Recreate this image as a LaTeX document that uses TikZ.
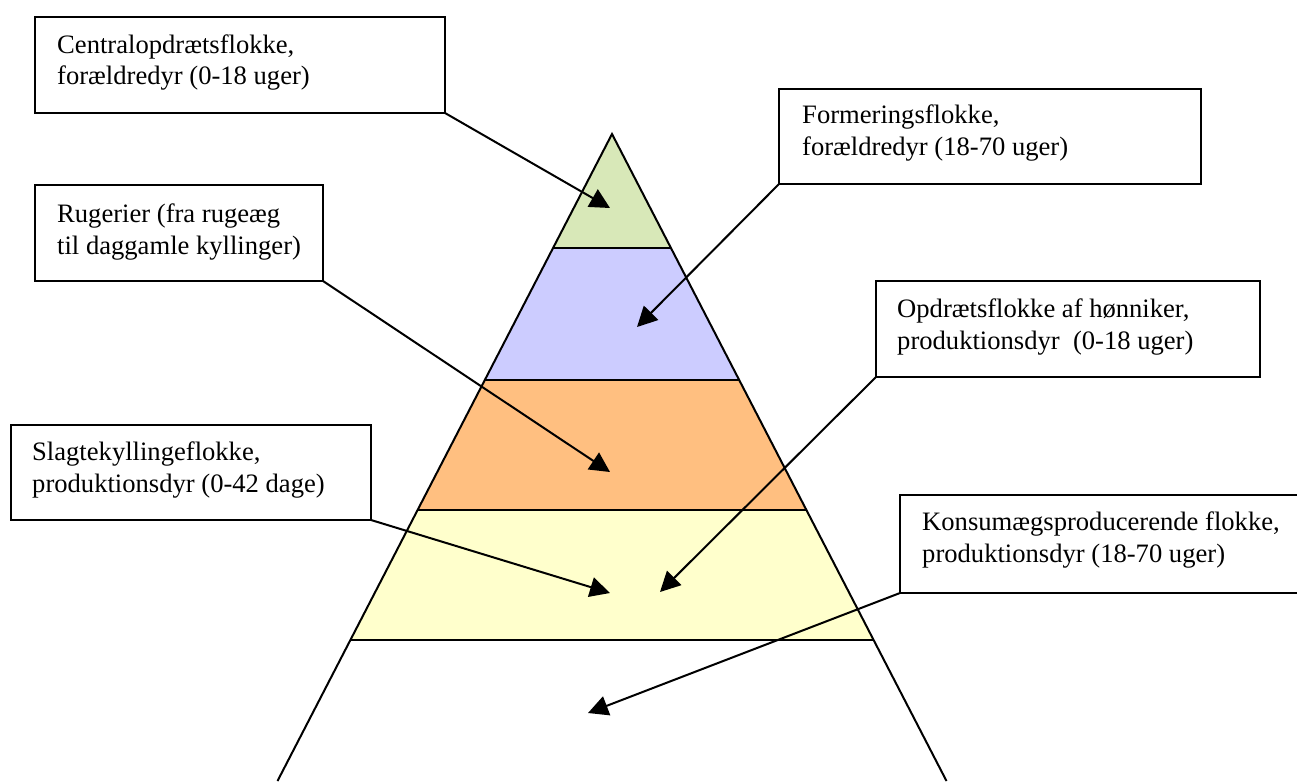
\documentclass[tikz,border=0pt]{standalone}
\usepackage{fontspec}
\setmainfont{Liberation Serif}
\usetikzlibrary{arrows.meta}
\definecolor{bandgreen}{HTML}{D8E8B8}
\definecolor{bandpurple}{HTML}{CCCCFF}
\definecolor{bandorange}{HTML}{FFBF80}
\definecolor{bandyellow}{HTML}{FFFFCC}
\begin{document}
\begin{tikzpicture}[x=1pt,y=-1pt,
  box/.style={draw,line width=2pt,anchor=north west,inner sep=0pt,outer sep=0pt},
  lbl/.style={anchor=base west,inner sep=0pt,align=left,font=\fontsize{26.6}{32}\selectfont},
  arr/.style={line width=2pt,-{Triangle[length=20pt,width=20pt]}},
  edge/.style={line width=2pt,line join=miter}]
\useasboundingbox (0,0) rectangle (1297,781);
\clip (0,0) rectangle (1297,781);
% pyramid bands
\fill[bandgreen] (612,134) -- (670.9,248) -- (553.1,248) -- cycle;
\fill[bandpurple] (553.1,248) -- (670.9,248) -- (739.2,380) -- (484.8,380) -- cycle;
\fill[bandorange] (484.8,380) -- (739.2,380) -- (806.4,510) -- (417.6,510) -- cycle;
\fill[bandyellow] (417.6,510) -- (806.4,510) -- (873.6,640) -- (350.4,640) -- cycle;
\draw[edge] (277.5,781) -- (612,134) -- (946.5,781);
\draw[edge] (553.1,248) -- (670.9,248);
\draw[edge] (484.8,380) -- (739.2,380);
\draw[edge] (417.6,510) -- (806.4,510);
\draw[edge] (350.4,640) -- (873.6,640);
% boxes
\node[box,minimum width=410pt,minimum height=96pt] (b1) at (35,17) {};
\node[box,minimum width=422pt,minimum height=95pt] (b2) at (779,89) {};
\node[box,minimum width=288pt,minimum height=96pt] (b3) at (35,185) {};
\node[box,minimum width=384pt,minimum height=96pt] (b4) at (876,281) {};
\node[box,minimum width=360pt,minimum height=95pt] (b5) at (11,425) {};
\node[box,minimum width=420pt,minimum height=98pt] (b6) at (900,495) {};
% labels (anchor = baseline of the last line)
\node[lbl] (t1) at (57,85) {Centralopdrætsflokke,\\forældredyr (0-18 uger)};
\node[lbl] (t2) at (802,155) {Formeringsflokke,\\forældredyr (18-70 uger)};
\node[lbl] (t3) at (57,254) {Rugerier (fra rugeæg\\til daggamle kyllinger)};
\node[lbl] (t4) at (897,349) {Opdrætsflokke af hønniker,\\produktionsdyr~ (0-18 uger)};
\node[lbl] (t5) at (32,492) {Slagtekyllingeflokke,\\produktionsdyr (0-42 dage)};
\node[lbl] (t6) at (922,562) {Konsumægsproducerende flokke,\\produktionsdyr (18-70 uger)};
% arrow targets
\coordinate (p1) at (610,208);
\coordinate (p2) at (637,327);
\coordinate (p3) at (610,472);
\coordinate (p4) at (660,592);
\coordinate (p5) at (610,593);
\coordinate (p6) at (588,713);
\draw[arr] (b1.south east) -- (p1);
\draw[arr] (b2.south west) -- (p2);
\draw[arr] (b3.south east) -- (p3);
\draw[arr] (b4.south west) -- (p4);
\draw[arr] (b5.south east) -- (p5);
\draw[arr] (b6.south west) -- (p6);
\end{tikzpicture}
\end{document}
